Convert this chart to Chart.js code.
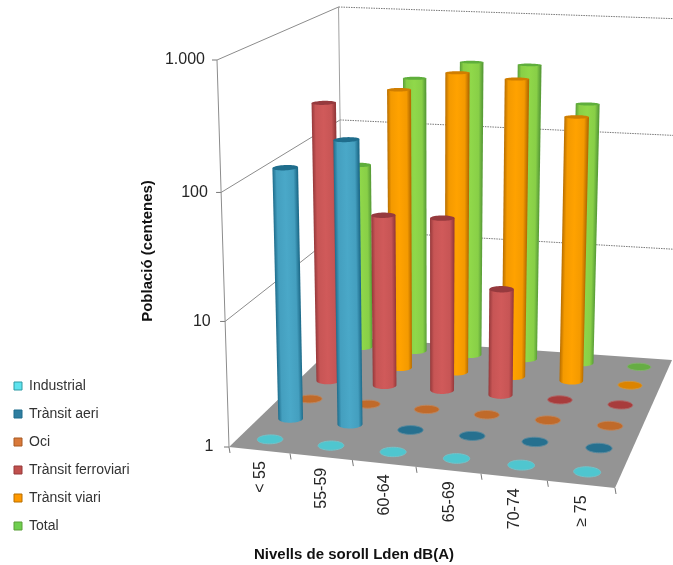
<!DOCTYPE html>
<html>
<head>
<meta charset="utf-8">
<style>
  html, body { margin: 0; padding: 0; background: #fff; }
  #wrap { width: 673px; height: 565px; }
</style>
<script src="https://cdn.jsdelivr.net/npm/chart.js@4"></script>
</head>
<body>
<div id="wrap"><canvas id="c" width="673" height="565"></canvas></div>
<script>
// Data
const categories = ["< 55", "55-59", "60-64", "65-69", "70-74", "≥ 75"];
const seriesNames = ["Industrial", "Trànsit aeri", "Oci", "Trànsit ferroviari", "Trànsit viari", "Total"];
const industrial = [1, 1, 1, 1, 1, 1];
const aeri = [107, 182, 1, 1, 1, 1];
const oci = [1, 1, 1, 1, 1, 1];
const ferroviari = [230, 28, 28, 7.7, 1, 1];
const viari = [1, 255, 365, 335, 170, 1];
const total = [45, 272, 390, 385, 187, 1];
const yTicks = [1, 10, 100, 1000];
const yTickLabels = ["1", "10", "100", "1.000"];

// Colours per series: legend fill, edge of the cylinder, middle of it, top cap, disc on the floor
const mainColors = ["#5fe3ee", "#2f7ea0", "#d9793a", "#c0504d", "#ff9900", "#6fcf4f"];
const edgeColors = ["#2f9aa3", "#1f6d8c", "#a85a22", "#96393b", "#b86e00", "#5a9e38"];
const midColors = ["#5fd0d8", "#4aa8c8", "#d9793a", "#d05a5a", "#ffa200", "#90d84a"];
const capColors = ["#2f9aa3", "#1f6d8c", "#a85a22", "#963a3e", "#d07e00", "#5fae3c"];
const discColors = ["#4fc6cf", "#26708f", "#c06a2a", "#a83c3c", "#dc8400", "#66ad44"];

// Where the 3D box lands on the page. u runs along categories, v towards the back.
// floorCorners: front left, front right, back right, back left; boxHeights: same order
const floorCorners = [[229, 447], [615, 488], [672, 360], [343, 337]];
const boxHeights = [387, 430, 341, 330];
const vanish = [434, 7060]; // verticals meet down here
const cylRadius = 0.0333;

// unit square -> quad (projective)
function makeQuad(q) {
    const [p0, p1, p2, p3] = q;
    const dx1 = p1[0] - p2[0], dx2 = p3[0] - p2[0], sx = p0[0] - p1[0] + p2[0] - p3[0];
    const dy1 = p1[1] - p2[1], dy2 = p3[1] - p2[1], sy = p0[1] - p1[1] + p2[1] - p3[1];
    const den = dx1 * dy2 - dx2 * dy1;
    const g = (sx * dy2 - dx2 * sy) / den;
    const h = (dx1 * sy - sx * dy1) / den;
    const a = p1[0] - p0[0] + g * p1[0], b = p3[0] - p0[0] + h * p3[0];
    const d = p1[1] - p0[1] + g * p1[1], e = p3[1] - p0[1] + h * p3[1];
    return (u, v) => {
        const w = g * u + h * v + 1;
        return [(a * u + b * v + p0[0]) / w, (d * u + e * v + p0[1]) / w];
    };
}
const floorAt = makeQuad(floorCorners);

function project(u, v, t) {
    // small corrections: the original's perspective is a bit flatter along u, a bit curved in height
    const f = floorAt(u + 0.05 * u * (1 - u), v);
    const tt = t - 0.04 * t * (1 - t);
    const H = boxHeights[0] * (1 - u) * (1 - v) + boxHeights[1] * u * (1 - v) +
        boxHeights[2] * u * v + boxHeights[3] * (1 - u) * v;
    const lean = (vanish[0] - f[0]) / (vanish[1] - f[1]);
    return [f[0] - H * tt * lean, f[1] - H * tt];
}

function mix(c1, c2, k) {
    const n = h => [1, 3, 5].map(i => parseInt(h.substr(i, 2), 16));
    const a = n(c1), b = n(c2);
    return "rgb(" + a.map((x, i) => Math.round(x + (b[i] - x) * k)).join(",") + ")";
}

function line(ctx, a, b, color, width, dash) {
    ctx.save();
    ctx.beginPath();
    ctx.moveTo(a[0], a[1]);
    ctx.lineTo(b[0], b[1]);
    ctx.strokeStyle = color;
    ctx.lineWidth = width;
    ctx.setLineDash(dash || []);
    ctx.stroke();
    ctx.restore();
}

function ring(u, v, t) {
    const pts = [];
    for (let i = 0; i < 48; i++) {
        const a = i / 48 * Math.PI * 2;
        pts.push(project(u + Math.cos(a) * cylRadius, v + Math.sin(a) * cylRadius, t));
    }
    return pts;
}

function fillPoly(ctx, pts, fill, stroke) {
    ctx.beginPath();
    pts.forEach((p, i) => i ? ctx.lineTo(p[0], p[1]) : ctx.moveTo(p[0], p[1]));
    ctx.closePath();
    ctx.fillStyle = fill;
    ctx.fill();
    if (stroke) {
        ctx.strokeStyle = stroke;
        ctx.lineWidth = 1;
        ctx.stroke();
    }
}

function drawCylinder(ctx, u, v, t, s) {
    const base = ring(u, v, 0);
    if (t <= 0.001) {
        fillPoly(ctx, base, discColors[s], mix(discColors[s], "#bbbbbb", 0.35));
        return;
    }
    const top = ring(u, v, t);
    const xs = base.map(p => p[0]);
    const left = xs.indexOf(Math.min(...xs));
    const right = xs.indexOf(Math.max(...xs));
    // outline: top edge, down the right side, round the front of the base, back up
    const outline = [top[left], top[right]];
    const step = base[(right + 1) % 48][1] > base[(right + 47) % 48][1] ? 1 : 47;
    for (let i = right; i !== left; i = (i + step) % 48) outline.push(base[i]);
    outline.push(base[left]);
    // gradient runs across the cylinder, square to its lean
    const ax = top[left][0] - base[left][0], ay = top[left][1] - base[left][1];
    const len = Math.hypot(ax, ay);
    const w = base[right][0] - base[left][0];
    const grad = ctx.createLinearGradient(base[left][0], base[left][1],
        base[left][0] - ay / len * w, base[left][1] + ax / len * w);
    const near = mix(edgeColors[s], midColors[s], 0.85);
    grad.addColorStop(0, edgeColors[s]);
    grad.addColorStop(0.16, near);
    grad.addColorStop(0.5, midColors[s]);
    grad.addColorStop(0.84, near);
    grad.addColorStop(1, edgeColors[s]);
    fillPoly(ctx, outline, grad);
    fillPoly(ctx, top, capColors[s]);
}

const box3d = {
    id: "box3d",
    beforeDatasetsDraw(chart) {
        const ctx = chart.ctx;
        const sx = chart.scales.x, sy = chart.scales.y, sz = chart.scales.z;
        const uOf = i => (sx.getPixelForValue(i) - sx.left) / sx.width;
        const vOf = i => (sz.getPixelForValue(i) - sz.left) / sz.width;
        const tOf = val => (sy.bottom - sy.getPixelForValue(val)) / sy.height;

        // floor
        fillPoly(ctx, floorCorners, "#949494");

        // walls and gridlines
        yTicks.forEach(val => {
            const t = tOf(val);
            const a = project(0, 0, t), b = project(0, 1, t), c = project(1, 1, t);
            if (val > 1) line(ctx, a, b, "#8c8c8c", 1);
            if (val > 1) line(ctx, b, c, "#777777", 1, [1.5, 1]);
            line(ctx, [a[0] - 5, a[1]], a, "#777777", 1);
        });
        line(ctx, project(0, 0, 0), project(0, 0, 1), "#8c8c8c", 1);
        line(ctx, project(0, 1, 0), project(0, 1, 1), "#a0a0a0", 1);

        // ticks under the front edge
        for (let i = 0; i <= categories.length; i++) {
            const a = project(i / categories.length, 0, 0);
            line(ctx, a, [a[0] + 1, a[1] + 6], "#777777", 1);
        }

        // cylinders, back row first
        for (let s = seriesNames.length - 1; s >= 0; s--) {
            const vals = chart.data.datasets[s].data;
            for (let c = 0; c < vals.length; c++) {
                drawCylinder(ctx, uOf(c), vOf(s), tOf(vals[c]), s);
            }
        }

        // texts
        ctx.fillStyle = "#262626";
        ctx.font = "16px Arial, 'Liberation Sans', sans-serif";
        ctx.textAlign = "right";
        ctx.textBaseline = "middle";
        yTicks.forEach((val, i) => {
            const a = project(0, 0, tOf(val));
            ctx.fillText(yTickLabels[i], a[0] - 12 - (3 - i) * 1.2, a[1]);
        });
        categories.forEach((name, i) => {
            const a = project(uOf(i), 0, 0);
            ctx.save();
            ctx.translate(a[0] + 1, a[1] + 11);
            ctx.rotate(-Math.PI / 2);
            ctx.fillText(name, 0, 0);
            ctx.restore();
        });
        ctx.fillStyle = "#111111";
        ctx.font = "bold 15px Arial, 'Liberation Sans', sans-serif";
        ctx.textAlign = "center";
        ctx.fillText("Nivells de soroll Lden dB(A)", 354, 555);
        ctx.save();
        ctx.translate(148, 251);
        ctx.rotate(-Math.PI / 2);
        ctx.fillText("Població (centenes)", 0, 0);
        ctx.restore();
        return false; // the library's flat bars are not wanted
    }
};

const seriesValues = [industrial, aeri, oci, ferroviari, viari, total];

new Chart(document.getElementById("c"), {
    type: "bar",
    data: {
        labels: categories,
        datasets: seriesNames.map((name, i) => ({
            label: name,
            data: seriesValues[i],
            backgroundColor: mainColors[i],
            borderColor: edgeColors[i],
            borderWidth: 1
        }))
    },
    plugins: [box3d],
    options: {
        responsive: false,
        animation: false,
        layout: { padding: { bottom: 18 } },
        scales: {
            x: { type: "category", display: false, offset: true },
            z: { type: "category", axis: "x", labels: seriesNames, display: false, offset: true },
            y: { type: "logarithmic", min: 1, max: 1000, display: false }
        },
        plugins: {
            tooltip: { enabled: false },
            legend: {
                position: "left",
                align: "end",
                labels: {
                    boxWidth: 8,
                    boxHeight: 8,
                    padding: 14,
                    color: "#333333",
                    font: { family: "Arial, 'Liberation Sans', sans-serif", size: 14 }
                }
            }
        }
    }
});
</script>
</body>
</html>
